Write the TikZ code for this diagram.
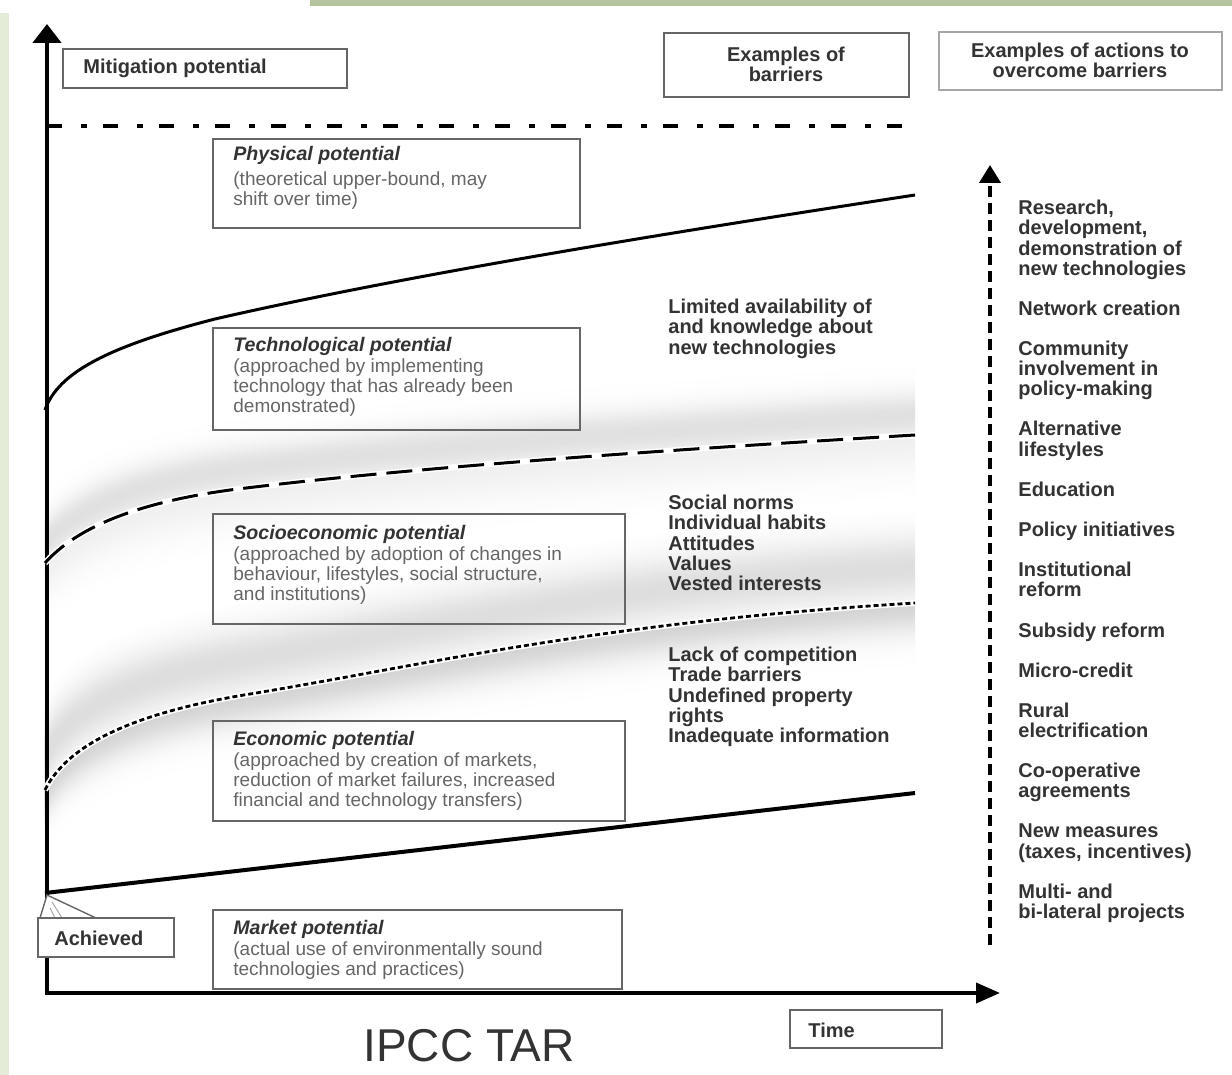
\documentclass[tikz,border=0pt]{standalone}
\usepackage{fontspec}
\setmainfont{Liberation Sans}
\usetikzlibrary{arrows.meta,fit}
\definecolor{bargreen}{HTML}{B4C49C}
\definecolor{stripgreen}{HTML}{E4ECD8}
\definecolor{boxgray}{HTML}{666666}
\definecolor{descgray}{HTML}{666666}
\definecolor{titlegray}{HTML}{333333}
\newcommand\PTtech{(45,410) .. controls (58,372) and (110,346) .. (215,319) .. controls (420,272) and (700,228) .. (915,195)}
\newcommand\PTsoc{(45,563) .. controls (70,535) and (120,505) .. (230,490) .. controls (420,466) and (700,448) .. (915,435)}
\newcommand\PTeco{(45,790) .. controls (65,750) and (120,715) .. (250,694) .. controls (420,666) and (600,622) .. (915,603)}
\begin{document}
\begin{tikzpicture}[x=0.5pt,y=-0.5pt,
  pbox/.style={draw=boxgray, line width=1pt, inner sep=0pt},
  ttl/.style={font=\fontsize{9.8}{10}\selectfont\bfseries\itshape, text=titlegray, inner sep=0pt, anchor=base west},
  dsc/.style={font=\fontsize{9.5}{10}\selectfont, text=descgray, align=left, inner sep=0pt, anchor=north west},
  lbl/.style={font=\fontsize{10}{10.05}\selectfont\bfseries, text=titlegray, align=left, inner sep=0pt, anchor=north west},
  hdr/.style={font=\fontsize{10}{10}\selectfont\bfseries, text=titlegray, align=center, inner sep=0pt},
  band/.style={line width=1.3pt, line cap=butt}
]
\useasboundingbox (0,0) rectangle (1232,1075);
\clip (0,0) rectangle (1232,1075);
\fill[white] (0,0) rectangle (1232,1075);
% background decorations
\fill[stripgreen] (0,13) rectangle (9,1075);
\fill[bargreen] (310,0) rectangle (1232,6);

% shading bands
\foreach \k in {0,1,...,35}{
  \pgfmathsetmacro\c{12*exp(-((\k-10)/12)^2)}
  \draw[band, draw=black!\c, yshift=\k pt] \PTsoc;
}
\foreach \k in {1,2,...,30}{
  \pgfmathsetmacro\c{6*exp(-(\k/18)^2)}
  \draw[band, draw=black!\c, yshift=-\k pt] \PTsoc;
}
\foreach \k in {0,1,...,45}{
  \pgfmathsetmacro\c{13*exp(-((\k-18)/16)^2)}
  \draw[band, draw=black!\c, yshift=\k pt] \PTeco;
}
\foreach \k in {1,2,...,35}{
  \pgfmathsetmacro\c{17*exp(-(\k/15)^2)}
  \draw[band, draw=black!\c, yshift=-\k pt] \PTeco;
}

% axes
\coordinate (O) at (45,993);
\coordinate (Ytop) at (47,24);
\coordinate (Xend) at (1000,993);
\draw[line width=2.3pt, -{Triangle[length=9.5pt,width=14pt]}] (47,993) -- (Ytop);
\draw[line width=2pt, -{Triangle[length=12pt,width=10pt]}] (O) -- (Xend);

% top dash-dot line
\coordinate (PL) at (47,126);
\coordinate (PR) at (912,126);
\draw[line width=2pt, dash pattern=on 7.5pt off 9.5pt on 3pt off 8pt] (PL) -- (PR);

% curves
\draw[line width=1.5pt] \PTtech;
\draw[white, line width=3pt] \PTsoc;
\draw[line width=1.5pt, dash pattern=on 13pt off 5pt] \PTsoc;
\draw[white, line width=3pt] \PTeco;
\draw[line width=1.4pt, dash pattern=on 2.5pt off 1.5pt] \PTeco;
\coordinate (M0) at (45,893);
\coordinate (M1) at (915,793);
\draw[line width=2pt] (M0) -- (M1);

% header boxes
\node[pbox, fit={(63,49) (347,88)}] (mit) {};
\node[hdr, anchor=west] (mitT) at (83,68) {Mitigation potential};
\node[pbox, fit={(664,33) (909,97)}] (barr) {};
\node[hdr] (barrT) at (786,64) {Examples of\\barriers};
\node[pbox, draw=gray!70, fit={(939,32) (1222,90)}] (act) {};
\node[hdr] (actT) at (1080,60) {Examples of actions to\\overcome barriers};

% potential boxes
\node[pbox, fit={(213,139) (580,228)}] (phys) {};
\node[ttl] (physT) at (233,161) {Physical potential};
\node[dsc] (physD) at (233,171) {(theoretical upper-bound, may\\shift over time)};

\node[pbox, fit={(213,328) (580,430)}] (tech) {};
\node[ttl] (techT) at (233,351) {Technological potential};
\node[dsc] (techD) at (233,358) {(approached by implementing\\technology that has already been\\demonstrated)};

\node[pbox, fit={(213,514) (625,624)}] (soc) {};
\node[ttl] (socT) at (233,539) {Socioeconomic potential};
\node[dsc] (socD) at (233,546) {(approached by adoption of changes in\\behaviour, lifestyles, social structure,\\and institutions)};

\node[pbox, fit={(213,721) (625,821)}] (eco) {};
\node[ttl] (ecoT) at (233,745) {Economic potential};
\node[dsc] (ecoD) at (233,752) {(approached by creation of markets,\\reduction of market failures, increased\\financial and technology transfers)};

\node[pbox, fit={(213,910) (622,989)}] (mkt) {};
\node[ttl] (mktT) at (233,934) {Market potential};
\node[dsc] (mktD) at (233,941) {(actual use of environmentally sound\\technologies and practices)};

% achieved callout
\coordinate (Ap) at (47,895);
\coordinate (Al) at (40,918);
\coordinate (Ar) at (96,918);
\fill[white] (Ap) -- (Al) -- (Ar) -- cycle;
\draw[boxgray, line width=0.7pt] (Al) -- (Ap) -- (Ar);
\draw[gray!70, line width=0.5pt] (52,902) -- (62,918) (50,908) -- (55,918);
\node[pbox, fill=white, fit={(38,918) (174,957)}] (ach) {};
\node[hdr, anchor=west] (achT) at (54,938) {Achieved};

% barrier texts
\node[lbl] (b1) at (668,299) {Limited availability of\\and knowledge about\\new technologies};
\node[lbl] (b2) at (668,495) {Social norms\\Individual habits\\Attitudes\\Values\\Vested interests};
\node[lbl] (b3) at (668,647) {Lack of competition\\Trade barriers\\Undefined property\\rights\\Inadequate information};

% actions arrow and texts
\coordinate (Abot) at (990,945);
\coordinate (Atop) at (990,165);
\draw[line width=2pt, dash pattern=on 5.5pt off 3pt, -{Triangle[length=9pt,width=10.5pt]}] (Abot) -- (Atop);
\node[lbl] (acts) at (1018,200) {Research,\\development,\\demonstration of\\new technologies\\[10.05pt]
Network creation\\[10.05pt]
Community\\involvement in\\policy-making\\[10.05pt]
Alternative\\lifestyles\\[10.05pt]
Education\\[10.05pt]
Policy initiatives\\[10.05pt]
Institutional\\reform\\[10.05pt]
Subsidy reform\\[10.05pt]
Micro-credit\\[10.05pt]
Rural\\electrification\\[10.05pt]
Co-operative\\agreements\\[10.05pt]
New measures\\(taxes, incentives)\\[10.05pt]
Multi- and\\bi-lateral projects};

% time box
\node[pbox, fit={(790,1010) (942,1048)}] (time) {};
\node[hdr, anchor=west] (timeT) at (808,1030) {Time};

% caption
\node[font=\fontsize{23}{23}\selectfont, text=titlegray, inner sep=0pt] (cap) at (469,1046) {IPCC TAR};
\end{tikzpicture}
\end{document}
